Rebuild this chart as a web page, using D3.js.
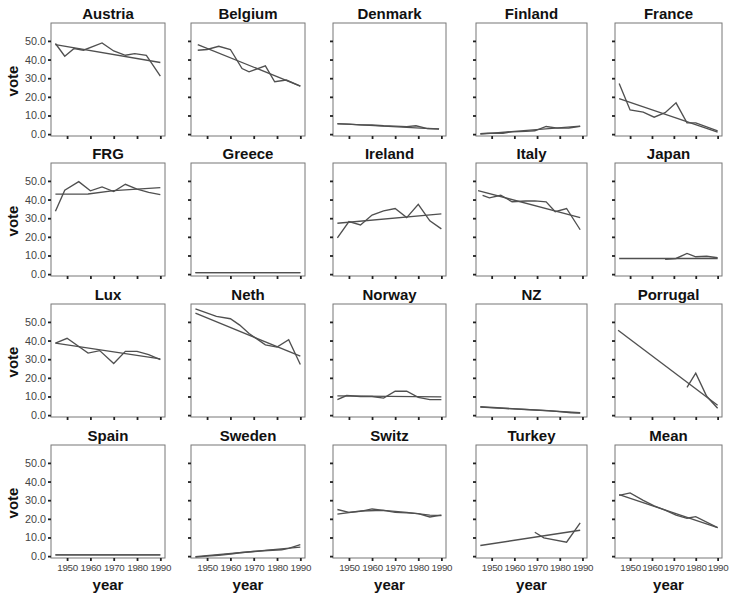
<!DOCTYPE html>
<html>
<head>
<meta charset="utf-8">
<script src="https://cdn.jsdelivr.net/npm/d3@7"></script>
<style>
  body { margin: 0; background: #fff; }
  svg { display: block; }
  text { font-family: "Liberation Sans", Arial, sans-serif; }
</style>
</head>
<body>
<svg id="vis-container"></svg>
<script>
const WIDTH = 730
const HEIGHT = 595
const CONTAINER = d3.select("#vis-container")

// panel placement (scan is slightly uneven, so columns are listed)
const COL_X = [51, 191, 333, 476, 615]
const COL_W = [114, 114, 113, 111, 107]
const ROW_Y = [23, 163, 304, 445]
const ROW_H = 113

const YEAR_TICKS = [1950, 1960, 1970, 1980, 1990]
const VOTE_TICKS = [0, 10, 20, 30, 40, 50]

// observed vote series and fitted trend, [year, vote]
const austriaVote = [[1945, 48.6], [1949, 41.8], [1953, 45.9], [1957, 45.0], [1965, 48.9], [1970, 44.6], [1975, 42.3], [1979, 43.2], [1984, 42.3], [1990, 31.1]]
const austriaFit = [[1945, 48.0], [1990, 38.4]]
const belgiumVote = [[1946, 45.0], [1950, 45.4], [1955, 47.1], [1960, 45.4], [1965, 35.2], [1968, 33.4], [1975, 36.6], [1979, 28.1], [1984, 29.0], [1990, 25.8]]
const belgiumFit = [[1946, 48.0], [1990, 25.8]]
const denmarkVote = [[1945, 5.5], [1950, 5.4], [1955, 5.0], [1960, 4.9], [1965, 4.5], [1970, 4.3], [1975, 4.0], [1979, 4.5], [1984, 3.0], [1989, 2.8]]
const denmarkFit = [[1945, 5.6], [1989, 2.7]]
const finlandVote = [[1945, 0.3], [1948, 0.5], [1955, 0.5], [1959, 1.3], [1965, 1.5], [1969, 1.8], [1974, 4.1], [1979, 3.2], [1984, 3.3], [1989, 4.2]]
const finlandFit = [[1945, 0.0], [1989, 4.3]]
const franceVote = [[1945, 27.2], [1950, 13.0], [1956, 11.8], [1961, 9.1], [1966, 11.5], [1971, 16.8], [1976, 6.0], [1980, 6.0], [1990, 1.8]]
const franceFit = [[1945, 19.0], [1990, 1.1]]
const frgVote = [[1945, 33.7], [1949, 45.0], [1955, 49.6], [1960, 44.7], [1965, 46.8], [1970, 44.3], [1975, 48.2], [1980, 45.6], [1985, 43.8], [1990, 42.6]]
const frgFit = [[1945, 42.9], [1959, 43.0], [1970, 44.8], [1990, 46.4]]
const greeceVote = [[1945, 0.8], [1990, 0.8]]
const greeceFit = [[1945, 0.8], [1990, 0.8]]
const irelandVote = [[1945, 19.4], [1950, 28.2], [1955, 26.4], [1960, 31.7], [1965, 33.9], [1970, 35.2], [1975, 30.3], [1980, 37.4], [1985, 28.6], [1990, 24.3]]
const irelandFit = [[1945, 27.3], [1990, 32.3]]
const italyVote = [[1946, 42.3], [1949, 40.9], [1954, 42.3], [1959, 38.8], [1965, 39.2], [1969, 39.3], [1974, 38.8], [1978, 33.5], [1983, 35.2], [1989, 23.8]]
const italyFit = [[1944, 44.8], [1989, 30.3]]
const japanVote = [[1966, 7.9], [1971, 8.4], [1976, 11.1], [1980, 9.3], [1985, 9.6], [1990, 8.8]]
const japanFit = [[1945, 8.4], [1990, 8.4]]
const luxVote = [[1945, 38.6], [1950, 41.2], [1959, 33.3], [1964, 34.6], [1970, 27.7], [1975, 34.2], [1980, 34.2], [1985, 32.5], [1990, 29.8]]
const luxFit = [[1945, 38.6], [1990, 30.2]]
const nethVote = [[1945, 57.0], [1954, 53.0], [1960, 51.7], [1964, 48.3], [1968, 43.8], [1975, 37.7], [1980, 36.5], [1985, 40.4], [1990, 27.2]]
const nethFit = [[1945, 54.7], [1990, 31.6]]
const norwayVote = [[1945, 8.3], [1949, 10.5], [1955, 10.0], [1960, 10.0], [1965, 9.1], [1970, 12.8], [1975, 12.8], [1980, 9.5], [1985, 8.3], [1990, 8.3]]
const norwayFit = [[1945, 10.3], [1990, 9.8]]
const nzVote = [[1945, 4.3], [1955, 3.6], [1965, 3.0], [1975, 2.4], [1980, 1.9], [1985, 1.3], [1989, 1.1]]
const nzFit = [[1945, 4.5], [1989, 1.3]]
const portugalVote = [[1976, 14.9], [1980, 22.5], [1985, 10.1], [1990, 3.7]]
const portugalFit = [[1944.5, 45.5], [1990, 5.3]]
const spainVote = [[1945, 0.7], [1990, 0.7]]
const spainFit = [[1945, 0.7], [1990, 0.7]]
const swedenVote = [[1945, -0.5], [1950, 0.0], [1955, 0.5], [1961, 1.3], [1964, 1.8], [1970, 2.5], [1976, 3.0], [1982, 3.4], [1985, 4.2], [1990, 6.2]]
const swedenFit = [[1945, -0.3], [1990, 4.8]]
const switzVote = [[1945, 25.0], [1950, 23.5], [1955, 24.0], [1960, 25.3], [1965, 24.5], [1970, 23.5], [1975, 23.2], [1980, 22.8], [1985, 21.0], [1990, 22.0]]
const switzFit = [[1945, 22.5], [1955, 24.2], [1965, 24.5], [1975, 23.5], [1985, 22.0], [1990, 21.8]]
const turkeyVote = [[1969, 12.8], [1973, 9.8], [1983, 7.5], [1989, 17.8]]
const turkeyFit = [[1945, 5.7], [1989, 13.9]]
const meanVote = [[1945, 32.6], [1950, 33.9], [1956, 29.9], [1961, 27.0], [1966, 24.7], [1971, 22.0], [1976, 20.3], [1980, 21.2], [1990, 15.3]]
const meanFit = [[1945, 33.0], [1990, 15.3]]

const PANELS = [
    ['Austria', austriaVote, austriaFit], ['Belgium', belgiumVote, belgiumFit],
    ['Denmark', denmarkVote, denmarkFit], ['Finland', finlandVote, finlandFit],
    ['France', franceVote, franceFit], ['FRG', frgVote, frgFit],
    ['Greece', greeceVote, greeceFit], ['Ireland', irelandVote, irelandFit],
    ['Italy', italyVote, italyFit], ['Japan', japanVote, japanFit],
    ['Lux', luxVote, luxFit], ['Neth', nethVote, nethFit],
    ['Norway', norwayVote, norwayFit], ['NZ', nzVote, nzFit],
    ['Porrugal', portugalVote, portugalFit], ['Spain', spainVote, spainFit],
    ['Sweden', swedenVote, swedenFit], ['Switz', switzVote, switzFit],
    ['Turkey', turkeyVote, turkeyFit], ['Mean', meanVote, meanFit]
]

initVisualization()

function initVisualization() {
    CONTAINER
        .attr('width', WIDTH)
        .attr('height', HEIGHT)

    PANELS.forEach((panel, index) => {
        renderPanel(index % 5, Math.floor(index / 5), panel)
    })
}

function renderPanel(col, row, [title, vote, fit]) {
    const left = COL_X[col]
    const top = ROW_Y[row]
    const w = COL_W[col]

    const x = d3.scaleLinear().domain([1943.1, 1992]).range([0, w])
    const y = d3.scaleLinear().domain([-1, 59.6]).range([ROW_H, 0])

    const g = CONTAINER.append('g').attr('transform', `translate(${left},${top})`)

    g.append('rect')
        .attr('width', w)
        .attr('height', ROW_H)
        .attr('fill', 'none')
        .attr('stroke', '#777')
        .attr('stroke-width', 1)

    const yAxis = d3.axisLeft(y)
        .tickValues(VOTE_TICKS)
        .tickSize(3)
        .tickPadding(2)
        .tickFormat(col === 0 ? d3.format('.1f') : () => '')
    const xAxis = d3.axisBottom(x)
        .tickValues(YEAR_TICKS)
        .tickSize(3)
        .tickPadding(3)
        .tickFormat(row === 3 ? d3.format('d') : () => '')

    const ya = g.append('g').call(yAxis)
    const xa = g.append('g').attr('transform', `translate(0,${ROW_H})`).call(xAxis)

    for (const a of [ya, xa]) {
        a.select('.domain').remove()
        a.selectAll('.tick line').attr('stroke', '#222').attr('stroke-width', 1.8)
        a.selectAll('.tick text').attr('fill', '#444')
    }
    ya.selectAll('.tick text').style('font-size', '10.8px')
    xa.selectAll('.tick text').style('font-size', '9.8px').attr('letter-spacing', '-0.3')

    const line = d3.line().x(d => x(d[0])).y(d => y(d[1]))

    g.append('path')
        .attr('d', line(fit))
        .attr('fill', 'none')
        .attr('stroke', '#505050')
        .attr('stroke-width', 1.35)
    g.append('path')
        .attr('d', line(vote))
        .attr('fill', 'none')
        .attr('stroke', '#505050')
        .attr('stroke-width', 1.35)

    g.append('text')
        .attr('x', w / 2)
        .attr('y', -4)
        .attr('text-anchor', 'middle')
        .attr('fill', '#111')
        .style('font-size', '15px')
        .style('font-weight', 'bold')
        .text(title)

    if (col === 0) {
        g.append('text')
            .attr('transform', `translate(${-left + 18},${58}) rotate(-90)`)
            .attr('text-anchor', 'middle')
            .attr('fill', '#111')
            .style('font-size', '15px')
            .style('font-weight', 'bold')
            .text('vote')
    }
    if (row === 3) {
        g.append('text')
            .attr('x', w / 2)
            .attr('y', ROW_H + 32)
            .attr('text-anchor', 'middle')
            .attr('fill', '#111')
            .style('font-size', '15px')
            .style('font-weight', 'bold')
            .text('year')
    }
}
</script>
</body>
</html>
